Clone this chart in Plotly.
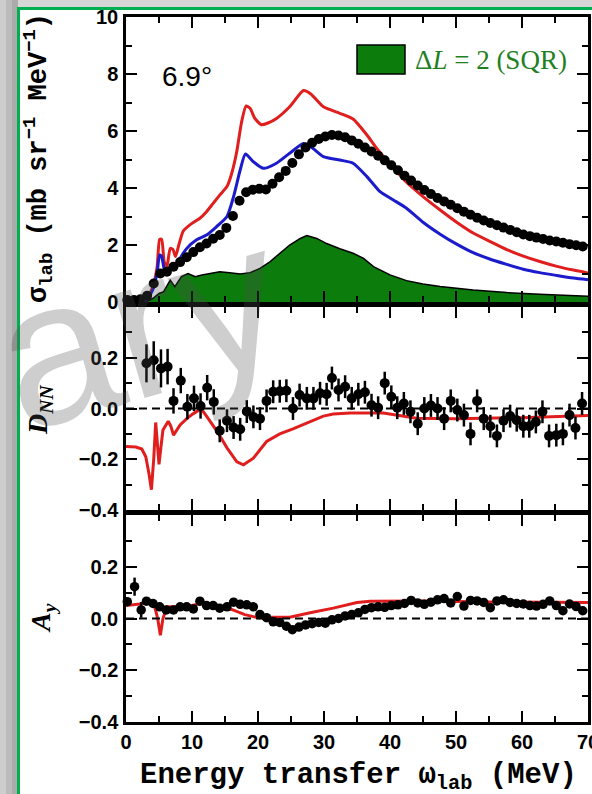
import plotly.graph_objects as go

# ---------------- data ----------------
# Top panel: cross section sigma_lab (mb sr^-1 MeV^-1)
sigma_x = [0.2, 1.2, 2.2, 3.2, 4.2, 5.2, 6.2, 7.2, 8.2, 9.2, 10.2, 11.2, 12.2, 13.2, 14.2,
           15.2, 16.2, 17.2, 18.2, 19.2, 20.2, 21.2, 22.2, 23.2, 24.2, 25.2, 26.2, 27.2, 28.2,
           29.2, 30.2, 31.2, 32.2, 33.2, 34.2, 35.2, 36.2, 37.2, 38.2, 39.2, 40.2, 41.2, 42.2,
           43.2, 44.2, 45.2, 46.2, 47.2, 48.2, 49.2, 50.2, 51.2, 52.2, 53.2, 54.2, 55.2, 56.2,
           57.2, 58.2, 59.2, 60.2, 61.2, 62.2, 63.2, 64.2, 65.2, 66.2, 67.2, 68.2, 69.2]
sigma_y = [0.07, 0.07, 0.1, 0.22, 0.65, 1.0, 1.06, 1.24, 1.4, 1.57, 1.75, 1.92, 2.05, 2.22,
           2.35, 2.6, 3.02, 3.55, 3.85, 3.94, 3.97, 3.95, 4.15, 4.38, 4.6, 4.88, 5.18, 5.42,
           5.59, 5.72, 5.81, 5.86, 5.84, 5.78, 5.67, 5.55, 5.42, 5.28, 5.13, 4.97, 4.8, 4.62,
           4.43, 4.26, 4.09, 3.93, 3.79, 3.65, 3.53, 3.41, 3.29, 3.17, 3.06, 2.96, 2.86, 2.77,
           2.69, 2.61, 2.53, 2.45, 2.37, 2.31, 2.26, 2.21, 2.16, 2.12, 2.08, 2.03, 1.99, 1.95]

red_sig_x = [0, 3.0, 4.0, 4.7, 5.1, 5.4, 5.8, 6.2, 6.7, 7.1, 7.5, 8.0, 8.7, 10.0, 11.2, 12.2,
             13.2, 14.2, 15.3, 16.0, 16.8, 17.5, 18.2, 18.8, 19.5, 20.5, 21.5, 22.8, 24.8,
             26.9, 28.0, 29.9, 32.4, 34.4, 36.5, 38.0, 39.5, 40.5, 42.5, 45.0, 47.6, 50.1,
             52.6, 55.2, 57.7, 60.2, 62.7, 65.3, 67.8, 70.0]
red_sig_y = [0.1, 0.12, 0.5, 1.2, 2.2, 2.2, 1.4, 1.25, 1.88, 1.85, 1.6, 2.0, 2.5, 2.76, 2.94,
             3.17, 3.46, 3.75, 4.05, 4.5, 5.3, 6.3, 6.88, 6.8, 6.45, 6.22, 6.28, 6.44, 6.85,
             7.42, 7.3, 6.85, 6.62, 6.42, 5.86, 5.39, 4.98, 4.72, 4.2, 3.7, 3.23, 2.8, 2.42,
             2.12, 1.84, 1.61, 1.42, 1.25, 1.12, 1.02]

blue_sig_x = [0, 3.0, 4.0, 4.7, 5.1, 5.4, 5.8, 6.2, 6.8, 7.7, 8.5, 9.2, 10.7, 12.2, 13.7,
              15.3, 16.3, 17.3, 18.1, 19.3, 20.8, 22.8, 24.8, 26.9, 28.0, 29.9, 32.4, 34.4,
              36.5, 38.5, 40.5, 42.5, 45.0, 47.6, 50.1, 52.6, 55.2, 57.7, 60.2, 62.7, 65.3,
              67.8, 70.0]
blue_sig_y = [0.05, 0.08, 0.4, 1.0, 1.65, 1.6, 1.15, 1.05, 1.3, 1.35, 1.65, 1.88, 2.18, 2.35,
              2.64, 3.0, 3.7, 4.63, 5.19, 4.92, 4.69, 4.87, 5.22, 5.56, 5.45, 5.1, 4.98, 4.87,
              4.4, 3.87, 3.58, 3.29, 2.8, 2.38, 2.03, 1.73, 1.5, 1.32, 1.15, 1.03, 0.93, 0.84,
              0.78]

sqr_x = [0, 3.0, 4.1, 5.0, 5.7, 6.7, 7.4, 8.4, 9.4, 10.5, 11.5, 12.7, 14.2, 15.7, 17.3,
         18.8, 20.3, 21.8, 23.3, 24.8, 26.4, 27.4, 28.9, 30.4, 32.4, 34.4, 36.0, 37.5, 40.0,
         42.5, 45.0, 47.6, 52.6, 57.7, 62.7, 67.8, 70.0]
sqr_y = [0, 0, 0.13, 0.3, 0.36, 0.77, 0.54, 0.89, 1.0, 0.89, 0.95, 1.0, 1.06, 1.03, 0.98,
         1.03, 1.18, 1.41, 1.71, 2.0, 2.23, 2.33, 2.23, 2.05, 1.87, 1.71, 1.53, 1.24, 0.95,
         0.75, 0.63, 0.54, 0.42, 0.33, 0.27, 0.22, 0.2]

# Middle panel: D_NN
dnn_x = [3.1, 4.2, 5.3, 6.3, 7.2, 8.3, 9.3, 10.3, 11.3, 12.3, 13.3, 14.2, 15.3, 16.3, 17.3,
         18.3, 19.3, 20.3, 21.3, 22.3, 23.3, 24.3, 25.3, 26.3, 27.4, 28.4, 29.4, 30.4, 31.2,
         32.2, 33.2, 34.2, 35.2, 36.2, 37.2, 38.2, 39.2, 40.2, 41.1, 42.1, 43.1, 44.2, 45.2,
         46.2, 47.2, 48.2, 49.2, 50.2, 51.2, 52.2, 53.2, 54.2, 55.2, 56.2, 57.2, 58.2, 59.2,
         60.2, 61.1, 62.1, 63.1, 64.1, 65.2, 66.2, 67.2, 68.1, 69.1]
dnn_y = [0.178, 0.19, 0.158, 0.165, 0.03, 0.11, 0.007, 0.04, 0.01, 0.082, 0.026, -0.088,
         -0.048, -0.075, -0.082, -0.012, -0.033, -0.04, 0.03, 0.066, 0.068, 0.07, 0.0, 0.053,
         0.04, 0.04, 0.06, 0.056, 0.12, 0.073, 0.086, 0.04, 0.056, 0.064, 0.013, 0.003, 0.1,
         0.046, 0.003, 0.02, -0.013, -0.06, 0.0, 0.012, 0.0, -0.04, 0.03, -0.006, -0.026,
         -0.1, 0.03, -0.04, -0.07, -0.108, -0.048, -0.03, -0.046, -0.07, -0.07, -0.053,
         -0.013, -0.108, -0.105, -0.1, -0.026, -0.077, 0.02]
dnn_err = [0.075, 0.075, 0.075, 0.07, 0.05, 0.05, 0.05, 0.05, 0.05, 0.05, 0.05, 0.045,
           0.045, 0.045, 0.045, 0.045, 0.045, 0.045, 0.045, 0.045, 0.045, 0.045, 0.045,
           0.045, 0.045, 0.045, 0.045, 0.045, 0.045, 0.045, 0.045, 0.045, 0.045, 0.045,
           0.045, 0.045, 0.045, 0.045, 0.045, 0.045, 0.045, 0.045, 0.045, 0.045, 0.045,
           0.045, 0.045, 0.045, 0.045, 0.045, 0.045, 0.045, 0.045, 0.045, 0.045, 0.045,
           0.045, 0.045, 0.045, 0.045, 0.045, 0.045, 0.045, 0.045, 0.045, 0.045, 0.045]

dnn_th_x = [0, 1.5, 2.4, 3.0, 3.5, 3.85, 4.2, 4.5, 4.7, 5.0, 5.3, 5.6, 6.4, 6.8, 7.2, 7.7,
            8.2, 9.2, 10.2, 11.0, 11.5, 12.2, 13.8, 15.3, 16.8, 17.8, 19.3, 21.3, 23.3, 25.3,
            27.4, 29.9, 31.4, 34.0, 39.0, 44.0, 50.0, 60.0, 70.0]
dnn_th_y = [-0.15, -0.152, -0.16, -0.19, -0.26, -0.32, -0.2, -0.055, -0.12, -0.22, -0.15,
            -0.085, -0.05, -0.07, -0.105, -0.085, -0.065, -0.04, -0.02, -0.008, -0.005, -0.03,
            -0.09, -0.155, -0.21, -0.222, -0.196, -0.13, -0.1, -0.08, -0.057, -0.03, -0.022,
            -0.018, -0.018, -0.038, -0.04, -0.036, -0.028]

# Bottom panel: A_y
ay_x = [0.2, 1.3, 2.3, 3.1, 4.1, 5.1, 6.1, 7.2, 8.2, 9.2, 10.2, 11.2, 12.2, 13.2, 14.2, 15.3,
        16.3, 17.3, 18.3, 19.3, 20.3, 21.3, 22.3, 23.3, 24.3, 25.2, 26.2, 27.2, 28.2, 29.2,
        30.2, 31.2, 32.2, 33.2, 34.2, 35.2, 36.2, 37.2, 38.2, 39.2, 40.2, 41.2, 42.2, 43.2,
        44.2, 45.2, 46.2, 47.2, 48.2, 49.2, 50.2, 51.2, 52.2, 53.2, 54.2, 55.2, 56.2, 57.2,
        58.2, 59.2, 60.2, 61.2, 62.2, 63.2, 64.2, 65.2, 66.2, 67.2, 68.2, 69.2]
ay_y = [0.065, 0.123, 0.033, 0.067, 0.058, 0.045, 0.033, 0.033, 0.045, 0.045, 0.037, 0.067,
        0.05, 0.05, 0.04, 0.045, 0.063, 0.055, 0.053, 0.045, 0.015, 0.003, -0.013, -0.015,
        -0.03, -0.043, -0.033, -0.025, -0.02, -0.015, -0.018, -0.005, 0.0, 0.01, 0.015, 0.022,
        0.035, 0.042, 0.045, 0.043, 0.05, 0.053, 0.058, 0.07, 0.06, 0.055, 0.063, 0.072,
        0.077, 0.06, 0.085, 0.048, 0.07, 0.068, 0.062, 0.042, 0.068, 0.072, 0.062, 0.058,
        0.056, 0.05, 0.048, 0.055, 0.068, 0.05, 0.03, 0.056, 0.046, 0.03]
ay_err = [0.015, 0.035, 0.03, 0.015, 0.012, 0.012, 0.012, 0.012, 0.012, 0.012, 0.012, 0.012,
          0.012, 0.012, 0.012, 0.012, 0.012, 0.012, 0.012, 0.012, 0.012, 0.012, 0.012, 0.012,
          0.012, 0.012, 0.012, 0.012, 0.012, 0.012, 0.012, 0.012, 0.012, 0.012, 0.012, 0.012,
          0.012, 0.012, 0.012, 0.012, 0.012, 0.012, 0.012, 0.012, 0.012, 0.012, 0.012, 0.012,
          0.012, 0.012, 0.012, 0.012, 0.012, 0.012, 0.012, 0.012, 0.012, 0.012, 0.012, 0.012,
          0.012, 0.012, 0.012, 0.012, 0.012, 0.012, 0.012, 0.012, 0.012, 0.012]

ay_th_x = [0, 2.0, 3.5, 4.3, 4.8, 5.2, 5.6, 6.2, 8.0, 10.0, 12.0, 14.0, 16.0, 18.0, 20.0,
           22.3, 24.8, 27.9, 31.4, 35.0, 37.0, 45.0, 55.0, 70.0]
ay_th_y = [0.05, 0.055, 0.06, 0.05, 0.0, -0.065, 0.0, 0.045, 0.045, 0.05, 0.062, 0.05, 0.035,
           0.015, 0.003, 0.005, 0.005, 0.022, 0.04, 0.062, 0.067, 0.068, 0.064, 0.062]

x_tick_vals = [0, 10, 20, 30, 40, 50, 60, 70]
sig_tick_vals = [0, 2, 4, 6, 8, 10]
pol_tick_vals = [-0.4, -0.2, 0.0, 0.2, 0.4]
pol_tick_text = ["\u22120.4", "\u22120.2", "0.0", "0.2", ""]

# ---------------- figure ----------------
W, H = 592, 794


def px(v):
    return v / W


def py(v):
    return 1 - v / H


RED = "#e01e1e"
BLUE = "#1b1bcc"
SQR_GREEN = "#0c7c0c"

fig = go.Figure()

# top panel
fig.add_trace(go.Scatter(x=sqr_x, y=sqr_y, mode="lines", fill="tozeroy",
                         fillcolor=SQR_GREEN, line=dict(color="black", width=1.5),
                         xaxis="x", yaxis="y", showlegend=False))
fig.add_trace(go.Scatter(x=red_sig_x, y=red_sig_y, mode="lines",
                         line=dict(color=RED, width=3, shape="spline", smoothing=0.6),
                         xaxis="x", yaxis="y", showlegend=False))
fig.add_trace(go.Scatter(x=blue_sig_x, y=blue_sig_y, mode="lines",
                         line=dict(color=BLUE, width=3, shape="spline", smoothing=0.6),
                         xaxis="x", yaxis="y", showlegend=False))
fig.add_trace(go.Scatter(x=sigma_x, y=sigma_y, mode="markers",
                         marker=dict(color="black", size=10),
                         cliponaxis=False, xaxis="x", yaxis="y", showlegend=False))

# middle panel
fig.add_trace(go.Scatter(x=dnn_th_x, y=dnn_th_y, mode="lines",
                         line=dict(color=RED, width=3),
                         xaxis="x2", yaxis="y2", showlegend=False))
fig.add_trace(go.Scatter(x=dnn_x, y=dnn_y, mode="markers",
                         marker=dict(color="black", size=10),
                         error_y=dict(type="data", array=dnn_err, visible=True,
                                      color="black", thickness=2.5, width=0),
                         cliponaxis=False, xaxis="x2", yaxis="y2", showlegend=False))

# bottom panel
fig.add_trace(go.Scatter(x=ay_th_x, y=ay_th_y, mode="lines",
                         line=dict(color=RED, width=3),
                         xaxis="x3", yaxis="y3", showlegend=False))
fig.add_trace(go.Scatter(x=ay_x, y=ay_y, mode="markers",
                         marker=dict(color="black", size=9.5),
                         error_y=dict(type="data", array=ay_err, visible=True,
                                      color="black", thickness=2.5, width=0),
                         cliponaxis=False, xaxis="x3", yaxis="y3", showlegend=False))

tickfont = dict(family="Liberation Sans", size=20, color="black", weight="bold")
common = dict(showline=True, linecolor="black", linewidth=2.5, mirror="allticks",
              ticks="inside", tickcolor="black", tickwidth=2, showgrid=False,
              zeroline=False, tickfont=tickfont, automargin=False,
              ticklabeloverflow="allow")

xdom = [px(126), px(588)]
xcommon = dict(common, domain=xdom, range=[0, 70], tickmode="array",
               tickvals=x_tick_vals, ticklen=11,
               minor=dict(ticks="inside", ticklen=6, tickwidth=2, tickcolor="black",
                          dtick=5, tick0=0))
ypol = dict(common, range=[-0.4, 0.4], tickmode="array", tickvals=pol_tick_vals,
            ticktext=pol_tick_text, ticklen=11, ticklabelstandoff=1,
            minor=dict(ticks="inside", ticklen=6, tickwidth=2, tickcolor="black",
                       dtick=0.1, tick0=0))

fig.update_layout(
    width=W, height=H,
    margin=dict(l=0, r=0, t=0, b=0, pad=0, autoexpand=False),
    paper_bgcolor="#d6d6d6",
    plot_bgcolor="white",
    xaxis=dict(xcommon, anchor="y", showticklabels=False),
    xaxis2=dict(xcommon, anchor="y2", showticklabels=False, matches="x"),
    xaxis3=dict(xcommon, anchor="y3", showticklabels=True, ticklabelstandoff=0,
                matches="x"),
    yaxis=dict(common, domain=[py(302), py(17)], range=[0, 10], anchor="x",
               tickmode="array", tickvals=sig_tick_vals, ticklen=11,
               ticklabelstandoff=1,
               minor=dict(ticks="inside", ticklen=6, tickwidth=2, tickcolor="black",
                          dtick=1, tick0=0)),
    yaxis2=dict(ypol, domain=[py(510), py(307)], anchor="x2"),
    yaxis3=dict(ypol, domain=[py(722), py(515)], anchor="x3"),
)

shapes = [
    # grey outer backdrop strips
    dict(type="rect", xref="paper", yref="paper", x0=0, x1=px(6), y0=0, y1=1,
         fillcolor="#cdcdcd", line=dict(width=0), layer="below"),
    dict(type="rect", xref="paper", yref="paper", x0=px(6), x1=px(12), y0=0, y1=1,
         fillcolor="#bcbcbc", line=dict(width=0), layer="below"),
    dict(type="rect", xref="paper", yref="paper", x0=px(12), x1=px(18), y0=0, y1=1,
         fillcolor="#ababab", line=dict(width=0), layer="below"),
    # white slide area with green border
    dict(type="rect", xref="paper", yref="paper", x0=px(18.5), x1=1.05, y0=-0.05,
         y1=py(8.5), fillcolor="white", line=dict(color="#00b050", width=3),
         layer="below"),
    # dashed zero lines
    dict(type="line", xref="x2 domain", yref="y2", x0=0, x1=1, y0=0, y1=0,
         line=dict(color="black", width=2, dash="8px,5px")),
    dict(type="line", xref="x3 domain", yref="y3", x0=0, x1=1, y0=0, y1=0,
         line=dict(color="black", width=2, dash="8px,5px")),
    # legend key box
    dict(type="rect", xref="paper", yref="paper", x0=px(357), x1=px(405),
         y0=py(74), y1=py(45), fillcolor=SQR_GREEN, line=dict(color="black", width=1.5)),
]

mono = "Liberation Mono"
C = dict(xref="paper", yref="paper", showarrow=False, xanchor="center", yanchor="middle")
annotations = [
    dict(C, text="6.9\u00b0", x=px(187), y=py(76),
         font=dict(family="Liberation Sans", size=28, color="black")),
    dict(C, text="\u0394<i>L</i> = 2 (SQR)", x=px(413), y=py(60), xanchor="left",
         font=dict(family="Liberation Serif", size=27, color="#1f801f")),
    dict(C, text="\u03c3<sub><b>lab</b></sub> (mb sr<sup>\u22121</sup> MeV<sup>\u22121</sup>)",
         x=px(38), y=py(158), textangle=-90,
         font=dict(family=mono, size=27, color="black", weight="bold")),
    dict(C, text="<i>D<sub>NN</sub></i>", x=px(40), y=py(410), textangle=-90,
         font=dict(family="Liberation Serif", size=28, color="black", weight="bold")),
    dict(C, text="<i>A<sub>y</sub></i>", x=px(42), y=py(618), textangle=-90,
         font=dict(family="Liberation Serif", size=28, color="black", weight="bold")),
    dict(C, text="Energy transfer \u03c9<sub><b>lab</b></sub> (MeV)",
         x=px(358), y=py(777),
         font=dict(family=mono, size=29, color="black", weight="bold")),
    # faint watermark fragment
    dict(C, text="ary", x=px(138), y=py(325), textangle=-16,
         font=dict(family="Liberation Sans", size=205, color="rgba(80,80,80,0.28)")),
]

fig.update_layout(shapes=shapes, annotations=annotations)

fig.write_html("out.html")
